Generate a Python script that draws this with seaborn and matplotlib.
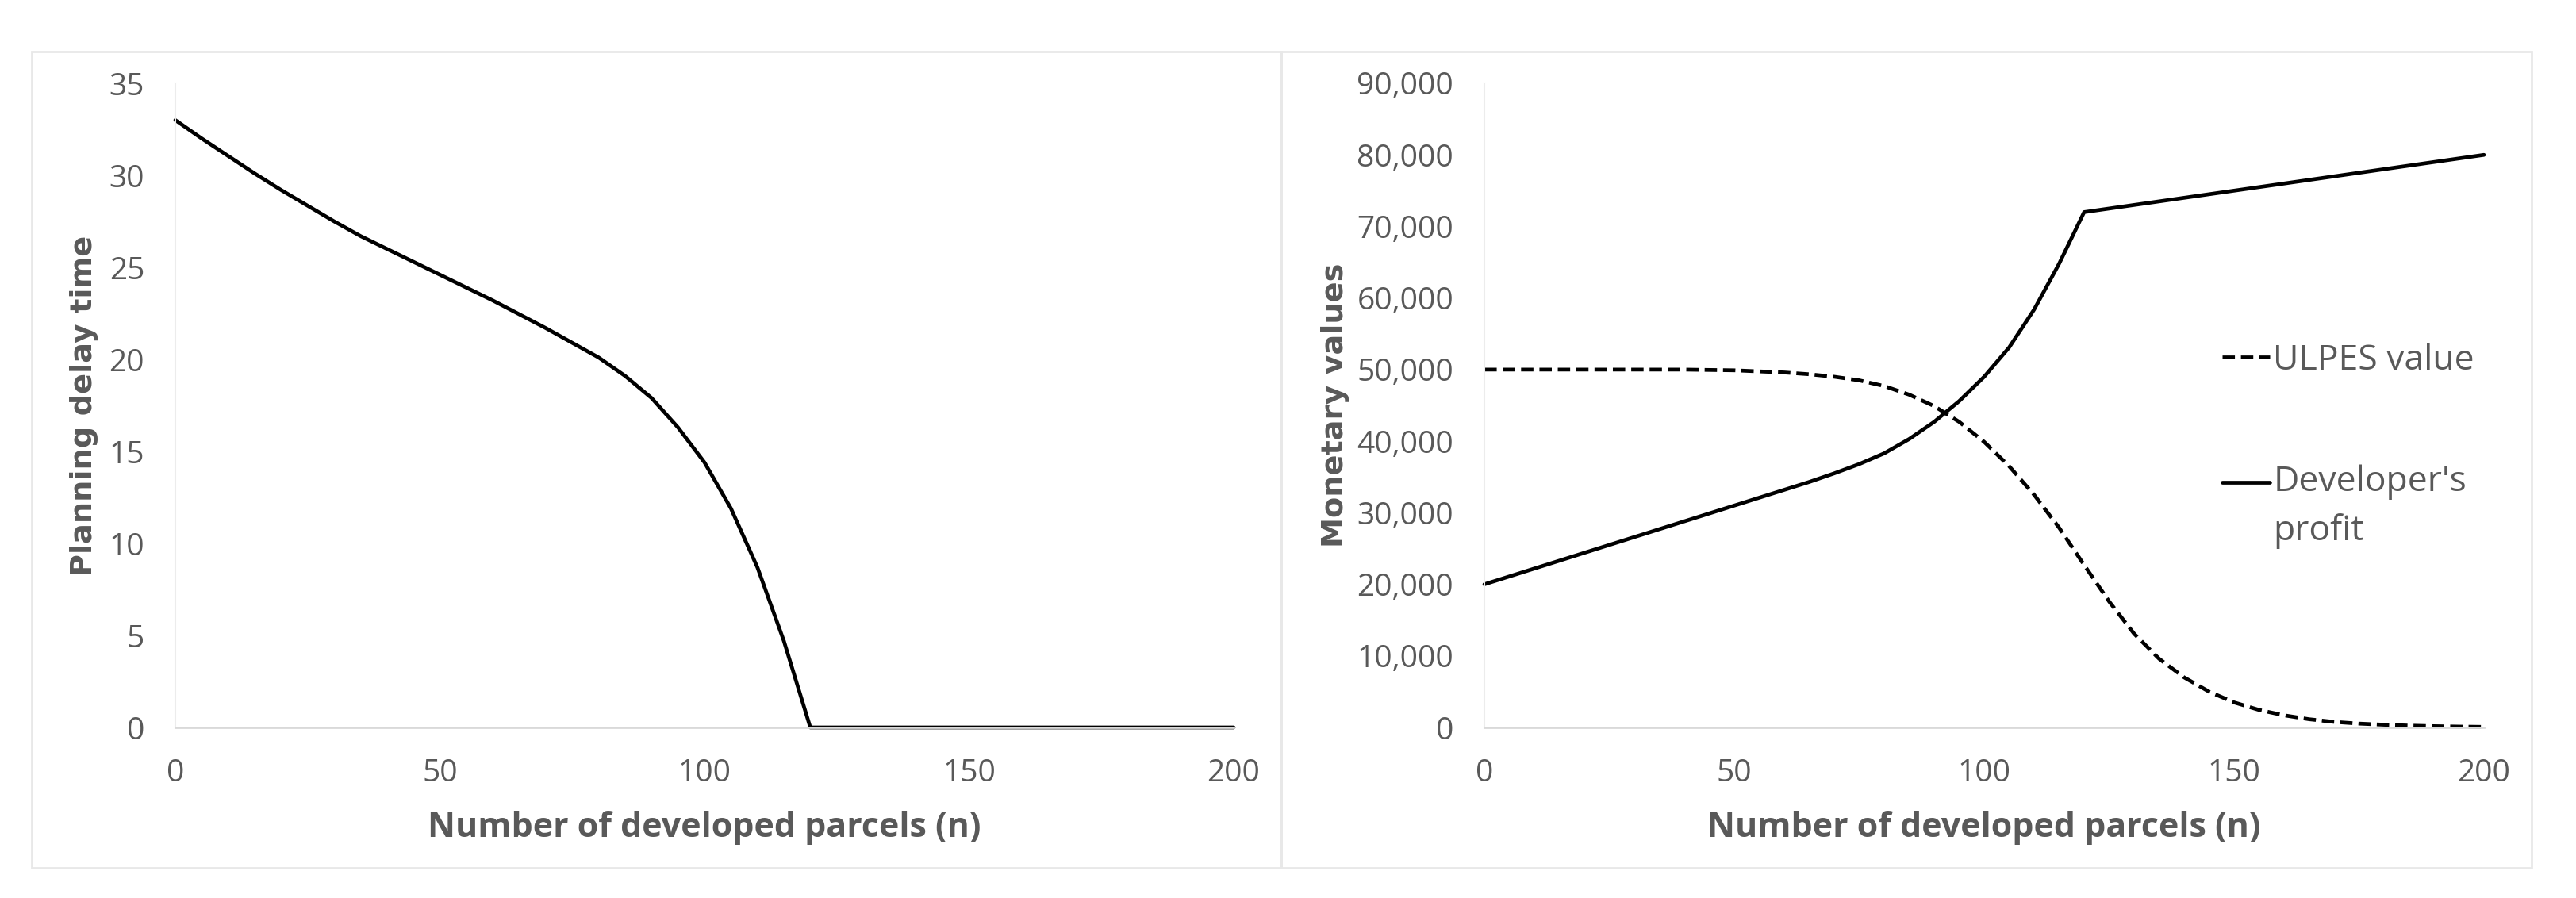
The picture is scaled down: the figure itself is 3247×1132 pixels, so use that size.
import numpy as np
import pandas as pd
import matplotlib
matplotlib.use('Agg')
import matplotlib.pyplot as plt
from matplotlib.patches import Rectangle
from matplotlib.ticker import FuncFormatter
import seaborn as sns

# values
delay_n = [0, 5, 10, 15, 20, 25, 30, 35, 40, 45, 50, 55, 60, 65, 70, 75, 80, 85, 90, 95,
           100, 105, 110, 115, 120, 160, 200]
delay_time = [33.0, 32.0, 31.05, 30.1, 29.2, 28.35, 27.5, 26.7, 26.0, 25.3, 24.6, 23.9, 23.2,
              22.45, 21.7, 20.9, 20.1, 19.1, 17.9, 16.3, 14.4, 11.9, 8.7, 4.7, 0, 0, 0]

money_n = [0, 5, 10, 15, 20, 25, 30, 35, 40, 45, 50, 55, 60, 65, 70, 75, 80, 85, 90, 95,
           100, 105, 110, 115, 120, 125, 130, 135, 140, 145, 150, 155, 160, 165, 170, 175,
           180, 185, 190, 195, 200]
ulpes_value = [50000, 50000, 50000, 50000, 50000, 50000, 50000, 50000, 50000, 49950, 49900,
               49750, 49600, 49350, 49000, 48500, 47700, 46500, 44900, 42700, 39900, 36500,
               32500, 27900, 22700, 17600, 13100, 9600, 7000, 5000, 3500, 2450, 1700, 1150,
               780, 540, 380, 260, 180, 120, 80]
dev_profit = [20000, 21100, 22200, 23300, 24400, 25500, 26600, 27700, 28800, 29900, 31000,
              32100, 33200, 34300, 35500, 36800, 38300, 40300, 42700, 45600, 49000, 53100,
              58400, 64800, 72000, 72500, 73000, 73500, 74000, 74500, 75000, 75500, 76000,
              76500, 77000, 77500, 78000, 78500, 79000, 79500, 80000]

x_ticks = [0, 50, 100, 150, 200]
delay_ticks = [0, 5, 10, 15, 20, 25, 30, 35]
money_ticks = [0, 10000, 20000, 30000, 40000, 50000, 60000, 70000, 80000, 90000]

xlabel = 'Number of developed parcels (n)'
ylabel_left = 'Planning delay time'
ylabel_right = 'Monetary values'
legend_labels = ['ULPES value', "Developer's\nprofit"]

sns.set_style('white')
plt.rcParams['font.family'] = ['Open Sans', 'DejaVu Sans']

GREY_TXT = '#595959'
GREY_AX = '#d9d9d9'
W, H = 3247, 1132

fig = plt.figure(figsize=(W / 100, H / 100), dpi=100)

# panel frames
for x0, x1 in [(40, 1615), (1615, 3191)]:
    fig.patches.append(Rectangle((x0 / W, 1 - 1094 / H), (x1 - x0) / W, (1094 - 65) / H,
                                 transform=fig.transFigure, fill=False,
                                 edgecolor='#e8e8e8', lw=2))

ax1 = fig.add_axes([221 / W, 1 - 917 / H, (1555 - 221) / W, (917 - 105) / H])
ax2 = fig.add_axes([1871 / W, 1 - 917 / H, (3131 - 1871) / W, (917 - 105) / H])

df_delay = pd.DataFrame({'n': delay_n, 'delay': delay_time})
df_money = pd.DataFrame({'n': money_n, 'ulpes': ulpes_value, 'profit': dev_profit})

LW = 3.4
sns.lineplot(data=df_delay, x='n', y='delay', ax=ax1, color='black', lw=LW, clip_on=False)
sns.lineplot(data=df_money, x='n', y='ulpes', ax=ax2, color='black', lw=LW,
             linestyle=(0, (3.3, 1.6)), label=legend_labels[0], clip_on=False)
sns.lineplot(data=df_money, x='n', y='profit', ax=ax2, color='black', lw=LW,
             label=legend_labels[1], clip_on=False)

for ax in (ax1, ax2):
    ax.set_xlim(0, 200)
    ax.set_xticks(x_ticks)
    for s in ['top', 'right']:
        ax.spines[s].set_visible(False)
    ax.spines['bottom'].set_color(GREY_AX)
    ax.spines['bottom'].set_linewidth(2)
    ax.spines['left'].set_color('#ececec')
    ax.spines['left'].set_linewidth(1.5)
    ax.tick_params(length=0, labelsize=28, labelcolor=GREY_TXT, pad=28)
    ax.set_xlabel(xlabel, fontsize=31, fontweight='bold', color=GREY_TXT, labelpad=20)

ax1.set_ylim(0, 35)
ax1.set_yticks(delay_ticks)
ax1.set_ylabel(ylabel_left, fontsize=27.5, fontweight='bold', color=GREY_TXT,
               family=['DejaVu Sans'], labelpad=10)

ax2.set_ylim(0, 90000)
ax2.set_yticks(money_ticks)
ax2.yaxis.set_major_formatter(FuncFormatter(lambda v, p: f'{int(v):,}'))
ax2.set_ylabel(ylabel_right, fontsize=27.5, fontweight='bold', color=GREY_TXT,
               family=['DejaVu Sans'], labelpad=7)

leg = ax2.legend(loc='upper left', bbox_to_anchor=(2801 / W, 1 - 432 / H),
                 bbox_transform=fig.transFigure, frameon=False, fontsize=32,
                 handlelength=1.35, handletextpad=0.1, labelspacing=2.45,
                 borderpad=0, borderaxespad=0)
for t in leg.get_texts():
    t.set_color(GREY_TXT)
    t.set_linespacing(1.5)
# Excel puts the marker next to the first line of a two-line entry
h2 = leg.get_lines()[1]
h2.set_ydata(np.asarray(h2.get_ydata()) + 23)

fig.savefig('out.png', dpi=100, facecolor='white')
